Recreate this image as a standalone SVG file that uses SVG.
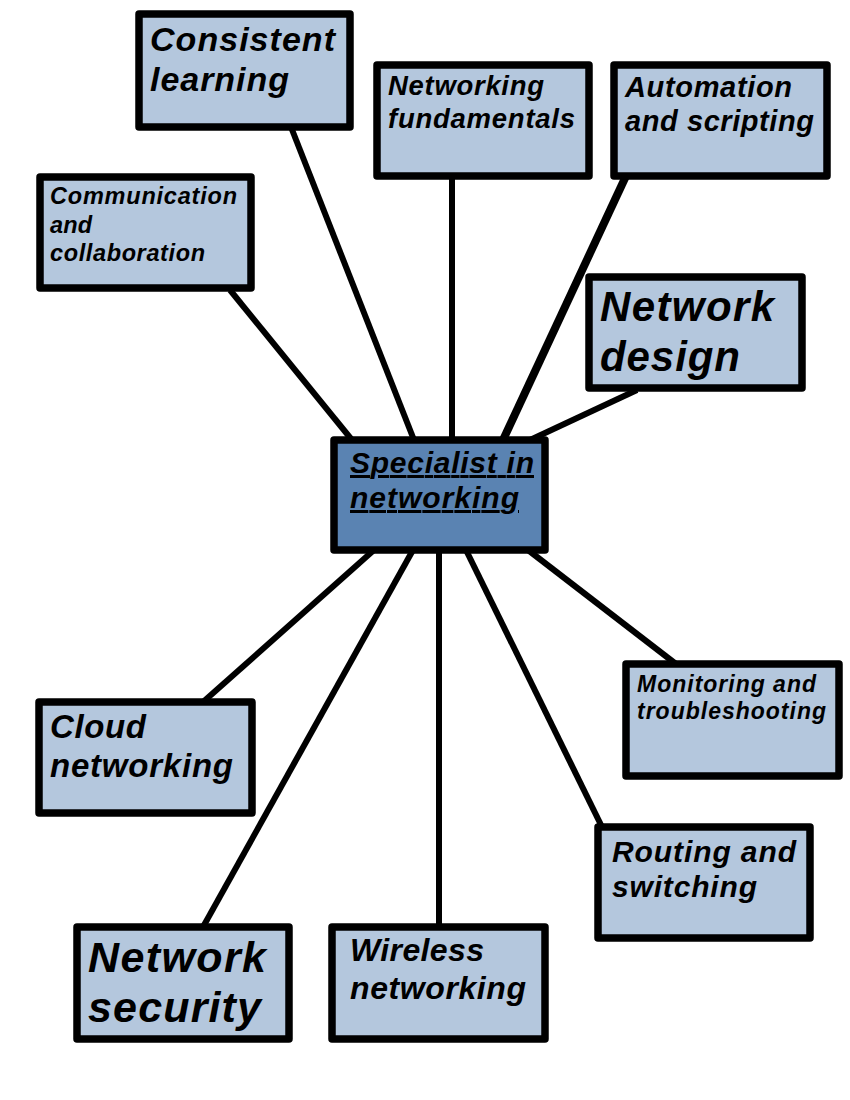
<svg xmlns="http://www.w3.org/2000/svg" width="850" height="1100" viewBox="0 0 850 1100">
<style>
.box{fill:#b4c7dd;stroke:#000;stroke-width:7.5;stroke-linejoin:round}
.hub{fill:#5a83b2;stroke:#000;stroke-width:7.5;stroke-linejoin:round}
.t{font-family:"Liberation Sans",Arial,sans-serif;font-weight:bold;font-style:italic;fill:#000}
.c line{stroke:#000;stroke-width:6;stroke-linecap:butt}
</style>
<rect width="850" height="1100" fill="#fff"/>
<g class="c" id="connectors">
<line x1="230" y1="290" x2="352" y2="440"/>
<line x1="291" y1="127" x2="414" y2="440"/>
<line x1="452" y1="176" x2="452" y2="440"/>
<line x1="626" y1="176" x2="503" y2="440" style="stroke-width:8"/>
<line x1="637" y1="390" x2="530" y2="440"/>
<line x1="528" y1="550" x2="676" y2="664"/>
<line x1="466" y1="550" x2="602" y2="827"/>
<line x1="439" y1="550" x2="439" y2="927"/>
<line x1="413" y1="550" x2="203" y2="927"/>
<line x1="374" y1="550" x2="203" y2="702"/>
</g>
<g id="consistent">
<rect class="box" x="139" y="14" width="211" height="113"/>
<text class="t" font-size="34"><tspan x="150" y="51" textLength="185" lengthAdjust="spacing">Consistent</tspan><tspan x="150" y="91" textLength="139" lengthAdjust="spacing">learning</tspan></text>
</g>
<g id="communication">
<rect class="box" x="40" y="177" width="211" height="111"/>
<text class="t" font-size="23.5"><tspan x="50" y="204" textLength="187" lengthAdjust="spacing">Communication</tspan><tspan x="50" y="233" textLength="42" lengthAdjust="spacing">and</tspan><tspan x="50" y="261" textLength="155" lengthAdjust="spacing">collaboration</tspan></text>
</g>
<g id="fundamentals">
<rect class="box" x="377" y="65" width="212" height="111"/>
<text class="t" font-size="27.5"><tspan x="388" y="95" textLength="156" lengthAdjust="spacing">Networking</tspan><tspan x="388" y="128" textLength="187" lengthAdjust="spacing">fundamentals</tspan></text>
</g>
<g id="automation">
<rect class="box" x="614" y="65" width="213" height="111"/>
<text class="t" font-size="29"><tspan x="625" y="97" textLength="167" lengthAdjust="spacing">Automation</tspan><tspan x="625" y="131" textLength="189" lengthAdjust="spacing">and scripting</tspan></text>
</g>
<g id="design">
<rect class="box" x="589" y="277" width="213" height="111"/>
<text class="t" font-size="42"><tspan x="600" y="321" textLength="174" lengthAdjust="spacing">Network</tspan><tspan x="600" y="371" textLength="140" lengthAdjust="spacing">design</tspan></text>
</g>
<g id="specialist">
<rect class="hub" x="334" y="440" width="211" height="110"/>
<text class="t" font-size="30" text-decoration="underline"><tspan x="350" y="473" textLength="184" lengthAdjust="spacing">Specialist in</tspan><tspan x="350" y="508" textLength="169" lengthAdjust="spacing">networking</tspan></text>
</g>
<g id="monitoring">
<rect class="box" x="626" y="664" width="213" height="112"/>
<text class="t" font-size="23"><tspan x="637" y="692" textLength="179" lengthAdjust="spacing">Monitoring and</tspan><tspan x="637" y="719" textLength="189" lengthAdjust="spacing">troubleshooting</tspan></text>
</g>
<g id="cloud">
<rect class="box" x="39" y="702" width="213" height="111"/>
<text class="t" font-size="33"><tspan x="50" y="738" textLength="96" lengthAdjust="spacing">Cloud</tspan><tspan x="50" y="777" textLength="183" lengthAdjust="spacing">networking</tspan></text>
</g>
<g id="routing">
<rect class="box" x="598" y="827" width="212" height="111"/>
<text class="t" font-size="30"><tspan x="612" y="862" textLength="184" lengthAdjust="spacing">Routing and</tspan><tspan x="612" y="897" textLength="145" lengthAdjust="spacing">switching</tspan></text>
</g>
<g id="security">
<rect class="box" x="77" y="927" width="212" height="112"/>
<text class="t" font-size="43"><tspan x="88" y="972" textLength="178" lengthAdjust="spacing">Network</tspan><tspan x="88" y="1022" textLength="173" lengthAdjust="spacing">security</tspan></text>
</g>
<g id="wireless">
<rect class="box" x="332" y="927" width="213" height="112"/>
<text class="t" font-size="32"><tspan x="350" y="961" textLength="134" lengthAdjust="spacing">Wireless</tspan><tspan x="350" y="999" textLength="176" lengthAdjust="spacing">networking</tspan></text>
</g>
</svg>
